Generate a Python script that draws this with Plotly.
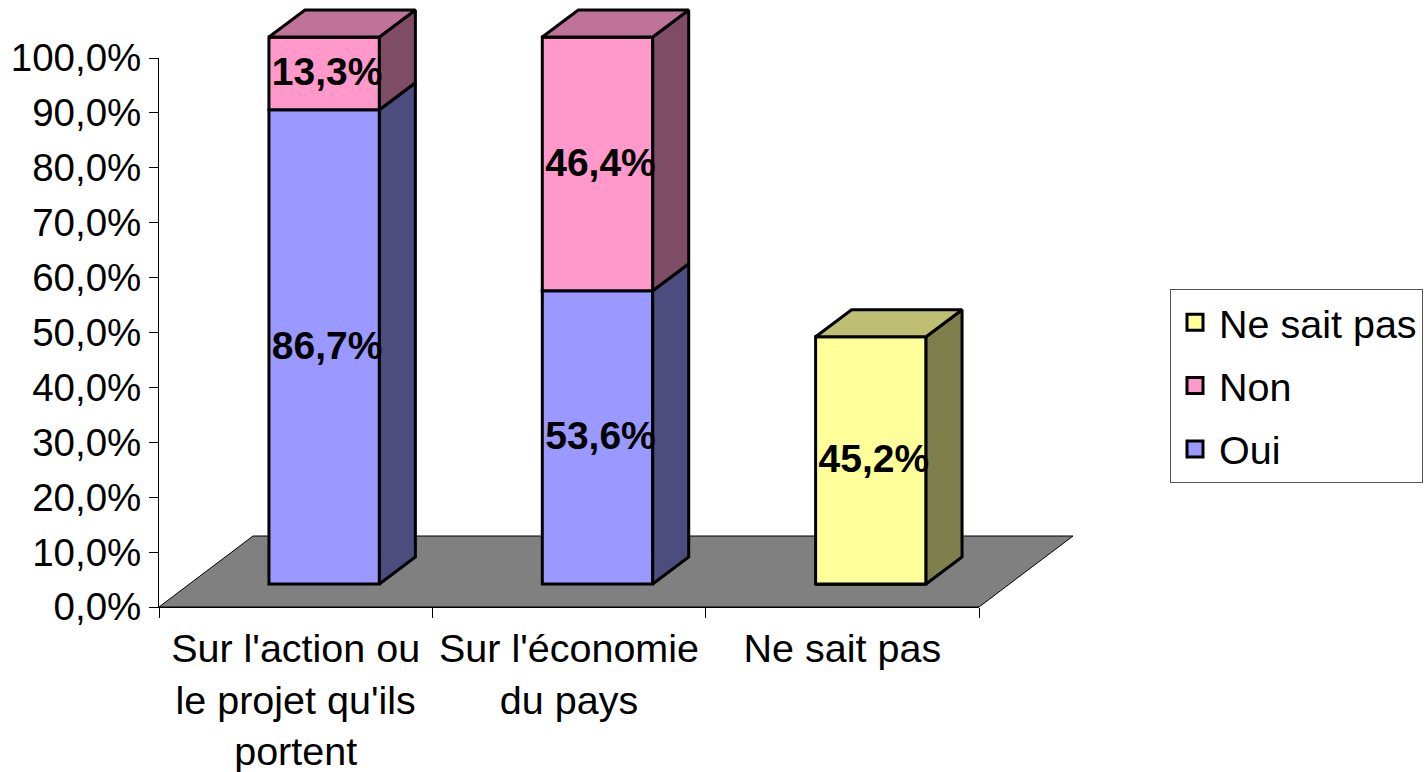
import plotly.graph_objects as go

categories = ["Sur l'action ou<br>le projet qu'ils<br>portent", "Sur l'économie<br>du pays", "Ne sait pas"]
oui = [86.7, 53.6, 0]
non = [13.3, 46.4, 0]
nsp = [0, 0, 45.2]
y_ticks = [0, 10, 20, 30, 40, 50, 60, 70, 80, 90, 100]
y_labels = ["0,0%", "10,0%", "20,0%", "30,0%", "40,0%", "50,0%", "60,0%", "70,0%", "80,0%", "90,0%", "100,0%"]

FONT = "Liberation Sans, Arial, sans-serif"
W, H = 1427, 772
L, R, T, B = 159, 979, 58, 607     # axes box
XR = 1100                           # right edge of the wide drawing area
x_unit = (R - L) / 3
y_unit = (B - T) / 100
front_unit = 5.47
BAR_W = 0.404
DX, DY = 36 / x_unit, 27 / front_unit        # bar depth, in axis units
FLOOR_DX, FLOOR_DY = 94 / x_unit, 71 / y_unit
LABEL_DX, LABEL_DY = 0.011, -0.4              # nudge of the data labels

series = [
    ("Oui", oui, "#9999FF", "#4C4C7F", "#7373BF"),
    ("Non", non, "#FF99CC", "#7F4C66", "#BF7399"),
    ("Ne sait pas", nsp, "#FFFF99", "#7F7F4C", "#BFBF73"),
]
totals = [a + b + c for a, b, c in zip(oui, non, nsp)]

fig = go.Figure()

# Invisible carrier so the visible axes are drawn
fig.add_trace(go.Scatter(
    x=[0, 1, 2], y=totals, mode="markers", marker=dict(opacity=0),
    showlegend=False, hoverinfo="skip"))

# Floor, on the wide subplot (under every bar)
fig.add_trace(go.Scatter(
    x=[-0.5, 2.5, 2.5 + FLOOR_DX, -0.5 + FLOOR_DX, -0.5],
    y=[0, 0, FLOOR_DY, FLOOR_DY, 0],
    mode="lines", fill="toself", fillcolor="#808080",
    line=dict(color="black", width=1),
    xaxis="x2", yaxis="y2", showlegend=False, hoverinfo="skip"))

# Bars on the front plane (x3 / y3)
cum = [0, 0, 0]
for name, vals, col, side, top in series:
    fig.add_trace(go.Bar(
        x=[0, 1, 2], y=vals, base=list(cum), width=BAR_W, name=name,
        marker=dict(color=col, line=dict(color="black", width=3)),
        xaxis="x3", yaxis="y3", showlegend=False))
    cum = [c + v for c, v in zip(cum, vals)]

# Side and top faces
cum = [0, 0, 0]
for name, vals, col, side, top in series:
    for i, v in enumerate(vals):
        if v == 0:
            continue
        r = i + BAR_W / 2
        l = i - BAR_W / 2
        lo, hi = cum[i], cum[i] + v
        fig.add_trace(go.Scatter(
            x=[r, r + DX, r + DX, r, r], y=[lo, lo + DY, hi + DY, hi, lo],
            mode="lines", fill="toself", fillcolor=side,
            line=dict(color="black", width=3), xaxis="x3", yaxis="y3",
            showlegend=False, hoverinfo="skip"))
        if abs(hi - totals[i]) < 1e-6:
            fig.add_trace(go.Scatter(
                x=[l, r, r + DX, l + DX, l], y=[hi, hi, hi + DY, hi + DY, hi],
                mode="lines", fill="toself", fillcolor=top,
                line=dict(color="black", width=3), xaxis="x3", yaxis="y3",
                showlegend=False, hoverinfo="skip"))
    cum = [c + v for c, v in zip(cum, vals)]

# Data labels
cum = [0, 0, 0]
for name, vals, col, side, top in series:
    xs, ys, txt = [], [], []
    for i, v in enumerate(vals):
        if v:
            xs.append(i + LABEL_DX)
            ys.append(cum[i] + v / 2 + LABEL_DY)
            txt.append(f"{v:.1f}%".replace(".", ","))
    fig.add_trace(go.Scatter(
        x=xs, y=ys, text=txt, mode="text", textposition="middle center",
        textfont=dict(family=FONT, size=39, color="black", weight="bold"),
        xaxis="x3", yaxis="y3", cliponaxis=False, showlegend=False, hoverinfo="skip"))
    cum = [c + v for c, v in zip(cum, vals)]

# Legend entries
for name, vals, col, side, top in reversed(series):
    fig.add_trace(go.Scatter(
        x=[None], y=[None], name=name, legendgroup=name, mode="markers",
        marker=dict(symbol="square", size=16, color=col, line=dict(color="black", width=3)),
        xaxis="x3", yaxis="y3"))

dom_y = [(H - B) / H, (H - T) / H]
wide_y = [(H - B) / H, 1.0]
shift = 28.5 / x_unit

fig.update_layout(
    width=W, height=H,
    margin=dict(l=0, r=0, t=0, b=0, pad=0, autoexpand=False),
    paper_bgcolor="white", plot_bgcolor="rgba(0,0,0,0)",
    font=dict(family=FONT, size=38, color="black"),
    barmode="overlay",
    # Visible axes: lines, ticks, labels
    xaxis=dict(
        domain=[L / W, R / W], anchor="y",
        range=[-0.5, 2.5], tickmode="array", tickvals=[0, 1, 2], ticktext=categories,
        ticks="", showgrid=False, zeroline=False, showline=True, linecolor="black", linewidth=1,
        tickfont=dict(family=FONT, size=39.5), ticklabelstandoff=7,
        minor=dict(tickmode="array", tickvals=[-0.5, 0.5, 1.5, 2.5], ticks="outside",
                   ticklen=10, tickwidth=1, tickcolor="black", showgrid=False)),
    yaxis=dict(
        domain=dom_y, anchor="x",
        range=[0, 100], tickmode="array", tickvals=y_ticks, ticktext=y_labels,
        ticks="outside", ticklen=9, tickwidth=1, tickcolor="black",
        showgrid=False, zeroline=False, showline=True, linecolor="black", linewidth=1,
        tickfont=dict(family=FONT, size=38.5)),
    # Wide hidden subplot for the floor
    xaxis2=dict(domain=[L / W, XR / W], anchor="y2", visible=False,
                range=[-0.5, -0.5 + (XR - L) / x_unit]),
    yaxis2=dict(domain=wide_y, anchor="x2", visible=False,
                range=[0, B / y_unit]),
    # Front plane of the bars, over the floor
    xaxis3=dict(overlaying="x2", anchor="y3", visible=False,
                range=[-0.5 - shift, -0.5 - shift + (XR - L) / x_unit]),
    yaxis3=dict(overlaying="y2", anchor="x3", visible=False,
                range=[(584 - B) / front_unit, 584 / front_unit]),
    legend=dict(
        x=1170 / W, xanchor="left", y=(H - 289) / H, yanchor="top",
        bgcolor="white", bordercolor="#555555", borderwidth=1,
        font=dict(family=FONT, size=39.5), tracegroupgap=9, itemsizing="trace",
        itemwidth=38, entrywidth=215, entrywidthmode="pixels",
        itemclick=False, itemdoubleclick=False),
)

fig.write_html("out.html", config={"displayModeBar": False},
               post_script="document.body.style.margin='0';")
